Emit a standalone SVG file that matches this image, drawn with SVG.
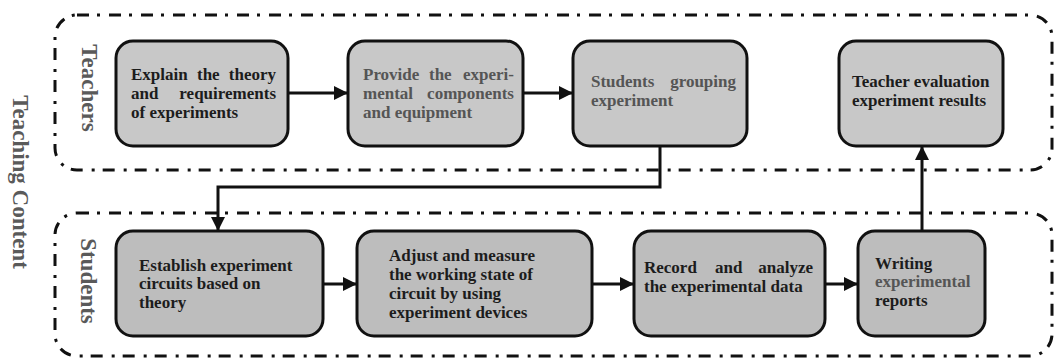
<svg xmlns="http://www.w3.org/2000/svg" width="1056" height="358" viewBox="0 0 1056 358">
<style>
.lane{fill:none;stroke:#111;stroke-width:3;stroke-dasharray:12 8 3 9;}
.box{stroke:#111;stroke-width:3;}
.top{fill:#c8c8c8;}
.bot{fill:#bdbdbd;}
text{font-family:"Liberation Serif","Times New Roman",serif;font-weight:bold;}
.t{font-size:17px;fill:#1c1c1c;}
.g{font-size:17px;fill:#555;}
.lbl{font-size:23px;fill:#5a5a5a;}
.con{fill:none;stroke:#111;stroke-width:3;}
</style>
<defs>
<marker id="ah" viewBox="0 0 14 14" refX="14" refY="7" markerWidth="14" markerHeight="14" markerUnits="userSpaceOnUse" orient="auto">
<path d="M0,0 L14,7 L0,14 z" fill="#111"/>
</marker>
</defs>

<g id="title">
<text class="lbl" transform="translate(13,182) rotate(90)" text-anchor="middle">Teaching Content</text>
</g>

<g id="lane-teachers">
<rect class="lane" x="55" y="15" width="997" height="155" rx="22"/>
<text class="lbl" transform="translate(82,88) rotate(90)" text-anchor="middle">Teachers</text>
</g>
<g id="lane-students">
<rect class="lane" x="55" y="213" width="997" height="143" rx="22"/>
<text class="lbl" transform="translate(81,281) rotate(90)" text-anchor="middle">Students</text>
</g>

<g id="connectors">
<line class="con" x1="288" y1="93" x2="348" y2="93" marker-end="url(#ah)"/>
<line class="con" x1="523" y1="93" x2="573" y2="93" marker-end="url(#ah)"/>
<polyline class="con" points="660,146 660,187 218,187 218,231" marker-end="url(#ah)"/>
<line class="con" x1="323" y1="284" x2="357" y2="284" marker-end="url(#ah)"/>
<line class="con" x1="592" y1="284" x2="634" y2="284" marker-end="url(#ah)"/>
<line class="con" x1="825" y1="284" x2="858" y2="284" marker-end="url(#ah)"/>
<line class="con" x1="922" y1="231" x2="922" y2="146" marker-end="url(#ah)"/>
</g>

<g id="n1">
<rect class="box top" x="116" y="41" width="172" height="105" rx="17"/>
<text class="t" x="131" y="80">Explain</text>
<text class="t" x="197" y="80">the</text>
<text class="t" x="276" y="80" text-anchor="end">theory</text>
<text class="t" x="131" y="99">and</text>
<text class="t" x="276" y="99" text-anchor="end">requirements</text>
<text class="t" x="131" y="118">of experiments</text>
</g>
<g id="n2">
<rect class="box top" x="348" y="41" width="175" height="105" rx="17"/>
<text class="g" x="363" y="80">Provide</text>
<text class="g" x="429" y="80">the</text>
<text class="g" x="514" y="80" text-anchor="end">experi-</text>
<text class="g" x="363" y="99">mental</text>
<text class="g" x="514" y="99" text-anchor="end">components</text>
<text class="g" x="363" y="118">and equipment</text>
</g>
<g id="n3">
<rect class="box top" x="573" y="41" width="174" height="105" rx="17"/>
<text class="g" x="591" y="87">Students</text>
<text class="g" x="736" y="87" text-anchor="end">grouping</text>
<text class="g" x="591" y="106">experiment</text>
</g>
<g id="n4">
<rect class="box top" x="839" y="41" width="164" height="105" rx="17"/>
<text class="t" x="852" y="87">Teacher evaluation</text>
<text class="t" x="852" y="106">experiment results</text>
</g>

<g id="n5">
<rect class="box bot" x="116" y="231" width="207" height="105" rx="17"/>
<text class="t" x="139" y="271">Establish experiment</text>
<text class="t" x="139" y="289">circuits based on</text>
<text class="t" x="139" y="308">theory</text>
</g>
<g id="n6">
<rect class="box bot" x="357" y="231" width="235" height="105" rx="17"/>
<text class="t" x="389" y="261">Adjust and measure</text>
<text class="t" x="389" y="280">the working state of</text>
<text class="t" x="389" y="299">circuit by using</text>
<text class="t" x="389" y="318">experiment devices</text>
</g>
<g id="n7">
<rect class="box bot" x="634" y="231" width="191" height="105" rx="17"/>
<text class="t" x="644" y="273">Record</text>
<text class="t" x="715" y="273">and</text>
<text class="t" x="813" y="273" text-anchor="end">analyze</text>
<text class="t" x="644" y="292">the experimental data</text>
</g>
<g id="n8">
<rect class="box bot" x="858" y="231" width="127" height="105" rx="17"/>
<text class="t" x="875" y="269">Writing</text>
<text class="g" x="875" y="287">experimental</text>
<text class="t" x="875" y="306">reports</text>
</g>
</svg>
